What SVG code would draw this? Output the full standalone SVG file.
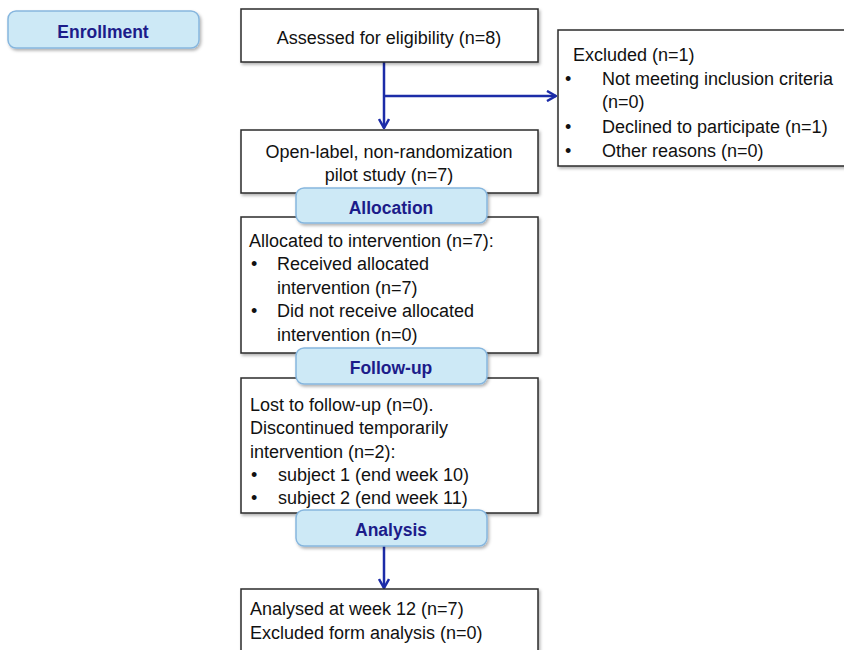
<svg xmlns="http://www.w3.org/2000/svg" width="844" height="650" viewBox="0 0 844 650">
<defs>
<style>
.box{fill:#fff;stroke:#2b2b2b;stroke-width:1.5}
.lab{fill:#cde9f6;stroke:#86b6de;stroke-width:1.5}
.t{font-family:"Liberation Sans",Arial,sans-serif;font-size:18px;fill:#111}
.lt{font-family:"Liberation Sans",Arial,sans-serif;font-size:17.5px;font-weight:bold;fill:#1c1c8a;text-anchor:middle}
.c{text-anchor:middle}
.arr{fill:none;stroke:#1c2ca8;stroke-width:2.5}
</style>
<marker id="ah" viewBox="0 0 12 12" refX="11" refY="6" markerWidth="12" markerHeight="12" markerUnits="userSpaceOnUse" orient="auto">
<polyline points="2,1 11,6 2,11" fill="none" stroke="#1c2ca8" stroke-width="2.5"/>
</marker>
<filter id="sh" x="-5%" y="-5%" width="115%" height="120%">
<feDropShadow dx="1.5" dy="2" stdDeviation="1.5" flood-color="#000" flood-opacity="0.3"/>
</filter>
</defs>
<rect width="844" height="650" fill="#fff"/>

<g id="connectors">
<line class="arr" x1="384" y1="62" x2="384" y2="128" marker-end="url(#ah)"/>
<line class="arr" x1="384" y1="96" x2="556" y2="96" marker-end="url(#ah)"/>
<line class="arr" x1="384" y1="546" x2="384" y2="588" marker-end="url(#ah)"/>
</g>

<g id="enrollment">
<rect class="lab" x="8" y="11" width="191" height="37" rx="8" filter="url(#sh)"/>
<text class="lt" x="103" y="38">Enrollment</text>
</g>

<g id="assessed">
<rect class="box" x="241" y="9" width="297" height="53" filter="url(#sh)"/>
<text class="t c" x="389" y="44">Assessed for eligibility (n=8)</text>
</g>

<g id="excluded">
<rect class="box" x="558" y="30" width="300" height="136" filter="url(#sh)"/>
<text class="t" x="573" y="61">Excluded (n=1)</text>
<text class="t" x="565" y="85">•</text>
<text class="t" x="602" y="85">Not meeting inclusion criteria</text>
<text class="t" x="602" y="108">(n=0)</text>
<text class="t" x="565" y="133">•</text>
<text class="t" x="602" y="133">Declined to participate (n=1)</text>
<text class="t" x="565" y="157">•</text>
<text class="t" x="602" y="157">Other reasons (n=0)</text>
</g>

<g id="openlabel">
<rect class="box" x="241" y="130" width="297" height="63" filter="url(#sh)"/>
<text class="t c" x="389" y="158">Open-label, non-randomization</text>
<text class="t c" x="389" y="181">pilot study (n=7)</text>
</g>

<g id="allocated">
<rect class="box" x="241" y="217" width="297" height="136" filter="url(#sh)"/>
<text class="t" x="249" y="247">Allocated to intervention (n=7):</text>
<text class="t" x="251" y="270">•</text>
<text class="t" x="277" y="270">Received allocated</text>
<text class="t" x="277" y="294">intervention (n=7)</text>
<text class="t" x="251" y="317">•</text>
<text class="t" x="277" y="317">Did not receive allocated</text>
<text class="t" x="277" y="341">intervention (n=0)</text>
</g>

<g id="allocation">
<rect class="lab" x="296" y="188" width="191" height="35" rx="8" filter="url(#sh)"/>
<text class="lt" x="391" y="214">Allocation</text>
</g>

<g id="followupbox">
<rect class="box" x="241" y="378" width="297" height="135" filter="url(#sh)"/>
<text class="t" x="250" y="411">Lost to follow-up (n=0).</text>
<text class="t" x="250" y="434">Discontinued temporarily</text>
<text class="t" x="250" y="458">intervention (n=2):</text>
<text class="t" x="251" y="481">•</text>
<text class="t" x="278" y="481">subject 1 (end week 10)</text>
<text class="t" x="251" y="504">•</text>
<text class="t" x="278" y="504">subject 2 (end week 11)</text>
</g>

<g id="followup">
<rect class="lab" x="296" y="348" width="191" height="36" rx="8" filter="url(#sh)"/>
<text class="lt" x="391" y="374">Follow-up</text>
</g>

<g id="analysis">
<rect class="lab" x="296" y="510" width="191" height="36" rx="8" filter="url(#sh)"/>
<text class="lt" x="391" y="536">Analysis</text>
</g>

<g id="analysed">
<rect class="box" x="241" y="589" width="297" height="80" filter="url(#sh)"/>
<text class="t" x="250" y="615">Analysed at week 12 (n=7)</text>
<text class="t" x="250" y="639">Excluded form analysis (n=0)</text>
</g>
</svg>
